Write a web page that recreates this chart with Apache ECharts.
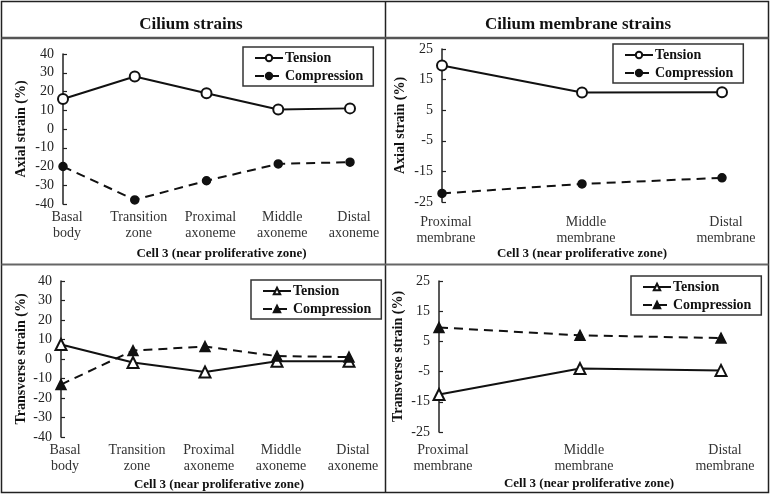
<!DOCTYPE html>
<html>
<head>
<meta charset="utf-8">
<script src="https://cdn.jsdelivr.net/npm/echarts@6/dist/echarts.min.js"></script>
<style>
html,body{margin:0;padding:0;background:#fff;}
#chart{width:771px;height:496px;}
</style>
</head>
<body>
<div id="chart"></div>
<script>
// ---- data ----
const ciliumCategories = ['Basal\nbody', 'Transition\nzone', 'Proximal\naxoneme', 'Middle\naxoneme', 'Distal\naxoneme'];
const membraneCategories = ['Proximal\nmembrane', 'Middle\nmembrane', 'Distal\nmembrane'];

const ciliumAxialTension = [16, 28, 19.1, 10.4, 11];
const ciliumAxialCompression = [-20, -37.8, -27.6, -18.6, -17.7];
const membraneAxialTension = [19.6, 10.8, 10.9];
const membraneAxialCompression = [-22.2, -19.1, -17.1];
const ciliumTransverseTension = [7.4, -1.8, -6.7, -1.2, -1.2];
const ciliumTransverseCompression = [-13.1, 4.3, 6.4, 1.5, 1.0];
const membraneTransverseTension = [-12.6, -4.0, -4.6];
const membraneTransverseCompression = [9.6, 7.0, 6.1];

const panelTitles = ['Cilium strains', 'Cilium membrane strains'];
const xAxisTitle = 'Cell 3 (near proliferative zone)';
const yAxisTitles = ['Axial strain (%)', 'Transverse strain (%)'];

// ---- styling ----
const FONT = '"Liberation Serif", "Times New Roman", serif';
const INK = '#111';

const grids = [
  {left: 63, top: 54, width: 287, height: 150},
  {left: 442, top: 49, width: 280, height: 153},
  {left: 61, top: 281, width: 288, height: 156},
  {left: 439, top: 281, width: 282, height: 151}
];
const yRanges = [[-40, 40], [-25, 25], [-40, 40], [-25, 25]];
const yNameGaps = [35, 35, 33, 34];
const xNameGaps = [43, 44, 41, 45];
const xLabelMargins = [5, 12, 5, 10];
const xNamePad = [[0,0,0,30],[0,0,0,0],[0,0,0,28],[0,0,0,18]];

function xAxis(i, cats) {
  return {
    type: 'category', gridIndex: i, data: cats, boundaryGap: false,
    axisLine: {show: false}, axisTick: {show: false},
    axisLabel: {interval: 0, margin: xLabelMargins[i], fontFamily: FONT, fontSize: 14, color: '#333', lineHeight: 16, padding: [0,0,0,8]},
    name: xAxisTitle, nameLocation: 'middle', nameGap: xNameGaps[i],
    nameTextStyle: {fontFamily: FONT, fontSize: 13, fontWeight: 'bold', color: INK, padding: xNamePad[i]}
  };
}
function yAxis(i, name) {
  return {
    type: 'value', gridIndex: i, min: yRanges[i][0], max: yRanges[i][1], interval: 10,
    axisLine: {show: true, lineStyle: {color: '#222', width: 1.5}},
    axisTick: {show: true, inside: true, length: 4, lineStyle: {color: '#222', width: 1.2}},
    splitLine: {show: false},
    axisLabel: {margin: 9, fontFamily: FONT, fontSize: 14, color: '#222'},
    name: name, nameLocation: 'middle', nameGap: yNameGaps[i], nameRotate: 90,
    nameTextStyle: {fontFamily: FONT, fontSize: 14, fontWeight: 'bold', color: INK}
  };
}
function series(i, name, data, dashed, tri) {
  const tension = !dashed;
  return {
    type: 'line', name: name + '#' + i, xAxisIndex: i, yAxisIndex: i, data: data,
    symbol: tri ? (tension ? 'emptyTriangle' : 'triangle') : (tension ? 'emptyCircle' : 'circle'),
    symbolSize: tri ? (tension ? 11 : 10) : (tension ? 10 : 8),
    lineStyle: {color: INK, width: 2, type: dashed ? [9, 6] : 'solid'},
    itemStyle: {color: INK, borderColor: INK, borderWidth: 1.5},
    emphasis: {disabled: true}, animation: false
  };
}
const legendBoxes = [
  {left: 243, top: 47},
  {left: 613, top: 44},
  {left: 251, top: 280},
  {left: 631, top: 276}
];
function legend(i) {
  return {
    left: legendBoxes[i].left, top: legendBoxes[i].top, orient: 'vertical',
    data: ['Tension#' + i, 'Compression#' + i],
    formatter: n => n.split('#')[0],
    itemWidth: 28, itemHeight: 8, itemGap: 4,
    padding: [4, 10, 3, 11],
    borderColor: '#333', borderWidth: 1.5,
    textStyle: {fontFamily: FONT, fontSize: 14, fontWeight: 'bold', color: INK, padding: [0,0,0,-3]},
    selectedMode: false
  };
}

const option = {
  animation: false,
  backgroundColor: '#fff',
  grid: grids,
  xAxis: [xAxis(0, ciliumCategories), xAxis(1, membraneCategories), xAxis(2, ciliumCategories), xAxis(3, membraneCategories)],
  yAxis: [yAxis(0, yAxisTitles[0]), yAxis(1, yAxisTitles[0]), yAxis(2, yAxisTitles[1]), yAxis(3, yAxisTitles[1])],
  legend: [legend(0), legend(1), legend(2), legend(3)],
  series: [
    series(0, 'Tension', ciliumAxialTension, false, false),
    series(0, 'Compression', ciliumAxialCompression, true, false),
    series(1, 'Tension', membraneAxialTension, false, false),
    series(1, 'Compression', membraneAxialCompression, true, false),
    series(2, 'Tension', ciliumTransverseTension, false, true),
    series(2, 'Compression', ciliumTransverseCompression, true, true),
    series(3, 'Tension', membraneTransverseTension, false, true),
    series(3, 'Compression', membraneTransverseCompression, true, true)
  ],
  graphic: [
    {type: 'rect', shape: {x: 1.5, y: 1.5, width: 767, height: 491}, style: {fill: 'none', stroke: '#222', lineWidth: 1.5}, silent: true},
    {type: 'line', shape: {x1: 385.5, y1: 1.5, x2: 385.5, y2: 492.5}, style: {stroke: '#222', lineWidth: 1.5}, silent: true},
    {type: 'line', shape: {x1: 1.5, y1: 38, x2: 768.5, y2: 38}, style: {stroke: '#555', lineWidth: 2.5}, silent: true},
    {type: 'line', shape: {x1: 1.5, y1: 264.5, x2: 768.5, y2: 264.5}, style: {stroke: '#666', lineWidth: 2}, silent: true},
    {type: 'text', x: 191, y: 25, style: {text: panelTitles[0], font: 'bold 17px ' + FONT, fill: INK, align: 'center', verticalAlign: 'middle'}, silent: true},
    {type: 'text', x: 578, y: 25, style: {text: panelTitles[1], font: 'bold 17px ' + FONT, fill: INK, align: 'center', verticalAlign: 'middle'}, silent: true}
  ]
};

const chart = echarts.init(document.getElementById('chart'), null, {renderer: 'canvas'});
chart.setOption(option);
</script>
</body>
</html>
